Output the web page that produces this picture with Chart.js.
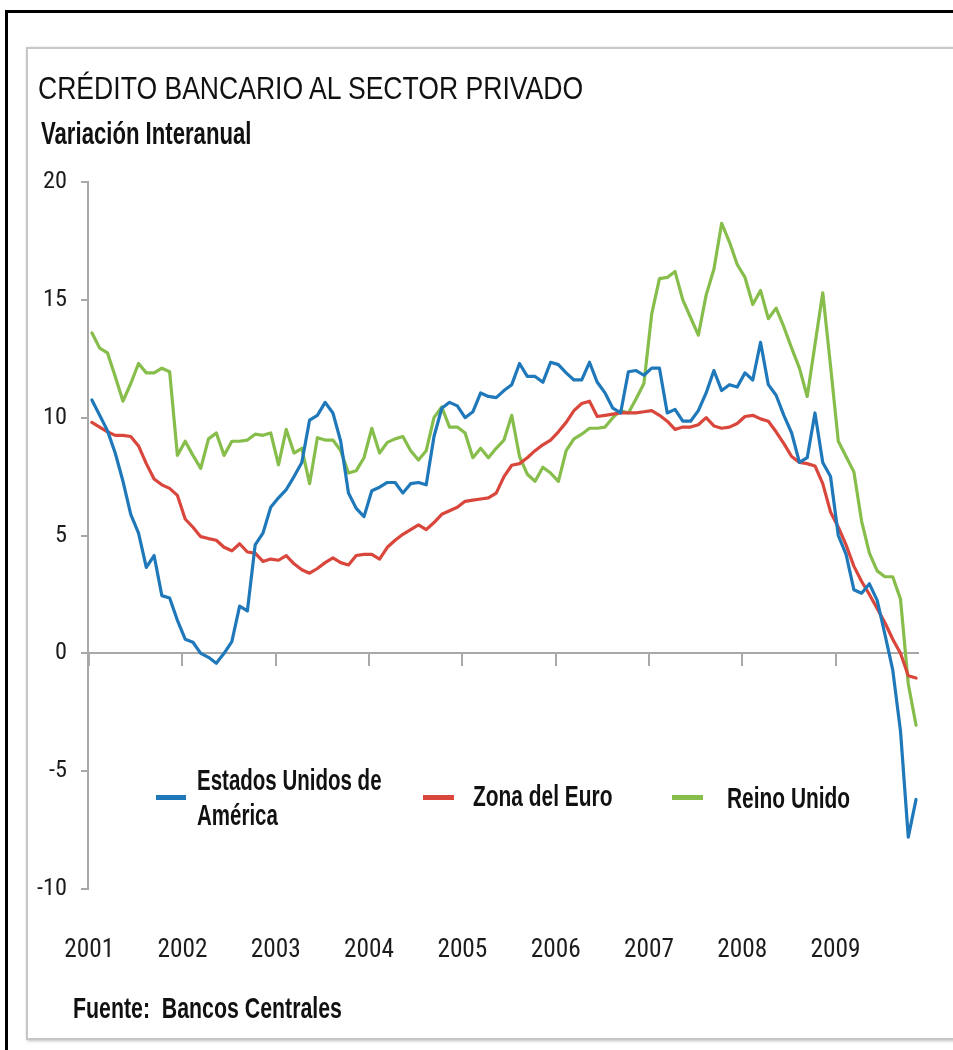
<!DOCTYPE html>
<html>
<head>
<meta charset="utf-8">
<script src="https://cdn.jsdelivr.net/npm/chart.js@4.4.0/dist/chart.umd.min.js"></script>
<style>
  html, body { margin:0; padding:0; background:#fff; width:953px; height:1050px; overflow:hidden; }
  #wrap { position:relative; width:953px; height:1050px; overflow:hidden; }
  #outer { position:absolute; left:5px; top:10px; width:1000px; height:1100px; border-left:3px solid #000; border-top:3px solid #000; }
  #inner { position:absolute; left:26px; top:47px; width:1000px; height:989px; border:2px solid #c6c6c6; box-shadow:1px 1px 3px rgba(0,0,0,0.25); }
  canvas { position:absolute; left:0; top:0; }
  .t { position:absolute; white-space:nowrap; font-family:"Liberation Sans", Arial, sans-serif; color:#111; line-height:1; transform-origin:left center; }
  .r { transform:scale(0.83, 1.0); }
  .b { font-weight:bold; transform:scale(0.82, 1.15); }
  .sw { position:absolute; height:5px; }
</style>
</head>
<body>
<div id="wrap">
  <div id="outer"></div>
  <div id="inner"></div>
  <canvas id="c" width="953" height="1050" style="width:953px;height:1050px"></canvas>
  <div class="t r" style="left:38px;top:72px;font-size:32px;">CRÉDITO BANCARIO AL SECTOR PRIVADO</div>
  <div class="t b" style="left:41px;top:121px;font-size:27px;">Variación Interanual</div>

  <div class="sw" style="left:156px;top:795px;width:30px;background:#1e78b9;"></div>
  <div class="t b" style="left:197px;top:768px;font-size:25px;">Estados Unidos de</div>
  <div class="t b" style="left:197px;top:803px;font-size:25px;">América</div>
  <div class="sw" style="left:423px;top:795px;width:31px;background:#d9463c;"></div>
  <div class="t b" style="left:473px;top:784px;font-size:25.5px;">Zona del Euro</div>
  <div class="sw" style="left:672px;top:795px;width:31px;background:#86bd4b;"></div>
  <div class="t b" style="left:727px;top:786px;font-size:25.5px;">Reino Unido</div>

  <div class="t b" style="left:73px;top:995px;font-size:26px;">Fuente:&nbsp; Bancos Centrales</div>
</div>
<script>
// Monthly data, Jan 2001 - Nov 2009 (variación interanual, %)
const yearLabels = ['2001','2002','2003','2004','2005','2006','2007','2008','2009'];
const seriesNames = ['Estados Unidos de América', 'Zona del Euro', 'Reino Unido'];

const usa = [10.75, 10.1, 9.45, 8.5, 7.3, 5.9, 5.1, 3.65, 4.15, 2.45,
  2.35, 1.4, 0.6, 0.47, 0.0, -0.17, -0.42, 0.0, 0.5, 2.0,
  1.8, 4.6, 5.1, 6.2, 6.6, 6.95, 7.5, 8.1, 9.9, 10.1,
  10.65, 10.2, 9.0, 6.8, 6.15, 5.8, 6.9, 7.05, 7.25, 7.25,
  6.8, 7.2, 7.25, 7.15, 9.2, 10.4, 10.65, 10.5, 10.0, 10.25,
  11.05, 10.9, 10.85, 11.15, 11.4, 12.3, 11.75, 11.75, 11.5, 12.35,
  12.25, 11.9, 11.6, 11.6, 12.35, 11.5, 11.05, 10.4, 10.2, 11.95,
  12.0, 11.8, 12.1, 12.1, 10.2, 10.35, 9.85, 9.85, 10.3, 11.05,
  12.0, 11.15, 11.4, 11.3, 11.9, 11.6, 13.2, 11.4, 10.95, 10.1,
  9.35, 8.1, 8.3, 10.2, 8.1, 7.5, 5.0, 4.2, 2.7, 2.55,
  2.95, 2.25, 0.8, -0.7, -3.3, -7.8, -6.2];

const euro = [9.8, 9.6, 9.4, 9.25, 9.25, 9.2, 8.8, 8.05, 7.4, 7.15,
  7.0, 6.7, 5.7, 5.35, 4.95, 4.87, 4.8, 4.5, 4.35, 4.65,
  4.3, 4.25, 3.9, 4.0, 3.95, 4.15, 3.8, 3.55, 3.4, 3.6,
  3.85, 4.05, 3.85, 3.75, 4.15, 4.2, 4.2, 4.0, 4.5, 4.8,
  5.05, 5.25, 5.45, 5.25, 5.55, 5.9, 6.05, 6.2, 6.45, 6.5,
  6.55, 6.6, 6.8, 7.5, 7.98, 8.05, 8.3, 8.6, 8.85, 9.05,
  9.4, 9.8, 10.3, 10.6, 10.7, 10.05, 10.1, 10.15, 10.2, 10.2,
  10.2, 10.25, 10.3, 10.1, 9.85, 9.5, 9.6, 9.6, 9.7, 10.0,
  9.65, 9.55, 9.6, 9.75, 10.05, 10.1, 9.95, 9.85, 9.4, 8.9,
  8.35, 8.1, 8.05, 7.95, 7.2, 6.0, 5.35, 4.6, 3.7, 3.05,
  2.5, 1.9, 1.3, 0.6, 0.0, -0.95, -1.05];

const uk = [13.6, 12.95, 12.75, 11.75, 10.7, 11.45, 12.3, 11.9, 11.9, 12.1,
  11.95, 8.4, 9.0, 8.4, 7.85, 9.1, 9.35, 8.4, 9.0, 9.0,
  9.05, 9.3, 9.25, 9.35, 8.0, 9.5, 8.5, 8.7, 7.2, 9.15,
  9.05, 9.05, 8.6, 7.65, 7.75, 8.3, 9.55, 8.5, 8.95, 9.1,
  9.2, 8.6, 8.2, 8.6, 10.0, 10.45, 9.6, 9.6, 9.35, 8.3,
  8.7, 8.3, 8.7, 9.05, 10.1, 8.35, 7.6, 7.3, 7.9, 7.65,
  7.3, 8.6, 9.1, 9.3, 9.55, 9.55, 9.6, 10.0, 10.3, 10.2,
  10.8, 11.45, 14.4, 15.9, 15.95, 16.2, 15.0, 14.25, 13.5, 15.2,
  16.3, 18.25, 17.45, 16.5, 15.95, 14.8, 15.4, 14.2, 14.65, 13.85,
  12.95, 12.1, 10.9, 13.1, 15.3, 12.2, 9.0, 8.35, 7.7, 5.6,
  4.25, 3.5, 3.25, 3.25, 2.3, -1.3, -3.05];

const yTicks = [-10, -5, 0, 5, 10, 15, 20];
const colors = ['#1e78b9', '#d9463c', '#86bd4b'];

// choose an installed narrow face for the axis labels
function pickTickFont() {
  const c = document.createElement('canvas').getContext('2d');
  const probe = '2001 Abcdefg';
  const installed = fam => {
    c.font = '100px monospace';
    const a = c.measureText(probe).width;
    c.font = '100px ' + fam + ', monospace';
    return Math.abs(c.measureText(probe).width - a) > 0.5;
  };
  const narrow = ['"Liberation Sans Narrow"', '"Arial Narrow"', '"Noto Sans Condensed"', '"Noto Sans SemiCondensed"', '"Roboto Condensed"', '"Open Sans Condensed"'];
  for (const fam of narrow) {
    if (installed(fam)) {
      c.font = '100px ' + fam;
      return { family: fam, weight: 'normal', narrow: true, w4: c.measureText('2001').width / 100, w2: c.measureText('20').width / 100 };
    }
  }
  c.font = '100px "Noto Sans"';
  const base = c.measureText('2001').width;
  c.font = 'condensed 100px "Noto Sans"';
  const wc = c.measureText('2001').width;
  if (wc < base * 0.92) {
    return { family: '"Noto Sans"', weight: 'condensed', narrow: true, w4: wc / 100, w2: c.measureText('20').width / 100 };
  }
  return { family: '"DejaVu Sans Condensed", "Liberation Sans", sans-serif', weight: 'normal', narrow: false };
}
const TF = pickTickFont();
const xFontSize = TF.narrow ? Math.round(50 / TF.w4 * 10) / 10 : 24;
const yFontSize = TF.narrow ? Math.round(24 / TF.w2 * 10) / 10 : 23.5;

const toPts = arr => arr.map((v, i) => ({ x: i, y: v }));
const yearTickPos = yearLabels.map((_, k) => 12 * k - 0.35);
const setYearTicks = s => { s.ticks = yearTickPos.map(v => ({ value: v })); };

new Chart(document.getElementById('c'), {
  type: 'line',
  data: {
    datasets: [
      { label: seriesNames[0], data: toPts(usa), borderColor: colors[0] },
      { label: seriesNames[1], data: toPts(euro), borderColor: colors[1] },
      { label: seriesNames[2], data: toPts(uk), borderColor: colors[2] }
    ]
  },
  options: {
    responsive: false,
    animation: false,
    devicePixelRatio: 1,
    layout: { padding: { left: 0, right: 35, top: 182, bottom: 0 } },
    plugins: { legend: { display: false }, tooltip: { enabled: false } },
    elements: {
      point: { radius: 0 },
      line: { borderWidth: 3.2, tension: 0, borderJoinStyle: 'round', borderCapStyle: 'round', fill: false }
    },
    scales: {
      x: {
        type: 'linear',
        position: 'bottom',
        min: -0.5,
        max: 106.25,
        afterBuildTicks: setYearTicks,
        afterFit: s => { s.height = 161; },
        ticks: {
          autoSkip: false, maxRotation: 0, minRotation: 0,
          padding: Math.round(61 - 0.6 * xFontSize),
          color: '#1c1c1c',
          font: { family: TF.family, weight: TF.weight, size: xFontSize },
          callback: (v, i) => yearLabels[i]
        },
        grid: { display: false, drawTicks: false },
        border: { display: false }
      },
      xz: {
        type: 'linear',
        position: { y: 0 },
        min: -0.5,
        max: 106.25,
        afterBuildTicks: setYearTicks,
        ticks: { display: false },
        grid: { drawOnChartArea: false, drawTicks: true, tickLength: 12, color: '#a8a8a8', lineWidth: 2 },
        border: { display: true, color: '#a8a8a8', width: 2 }
      },
      y: {
        min: -10, max: 20,
        afterFit: s => { s.width = 88; },
        afterBuildTicks: s => { s.ticks = yTicks.map(v => ({ value: v })); },
        ticks: { padding: 14, color: '#1c1c1c', font: { family: TF.family, weight: TF.weight, size: yFontSize } },
        grid: { drawOnChartArea: false, drawTicks: true, tickLength: 7, color: '#a8a8a8', lineWidth: 2 },
        border: { display: true, color: '#a8a8a8', width: 2 }
      }
    }
  }
});
</script>
</body>
</html>
